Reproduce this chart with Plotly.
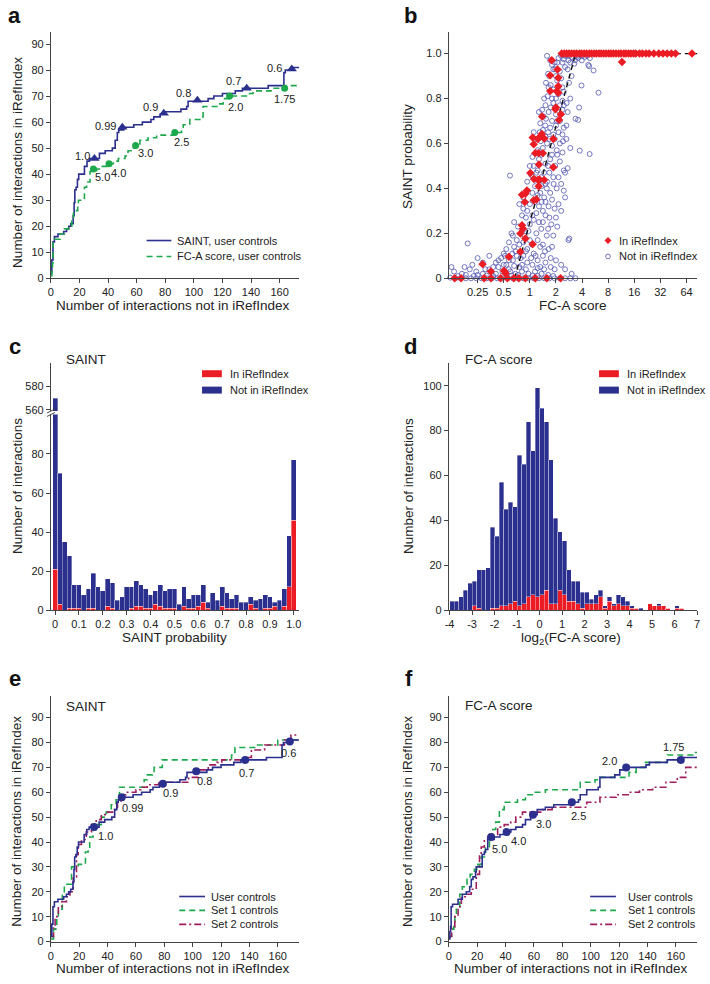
import plotly.graph_objects as go

W, H = 710, 984
NAVY = "#2b2f8e"
GREEN = "#1ea84c"
PURPLE = "#a01d5e"
RED = "#ec1c24"
CIRC = "#5357b0"
AX = "#444444"
TXT = "#222222"
FONT = "Liberation Sans, Arial, Helvetica, sans-serif"

# ---------------- data ----------------
# Panel a / e / f step curves: x = interactions not in iRefIndex, y = in iRefIndex
saint_user_x = [0, 0.7, 1.5, 2.5, 5, 9, 11, 12.6, 14, 15.6, 16.3, 16.8, 17.7, 18.6, 19.5, 23.5, 25.3, 27,
                34, 38, 43, 45, 46.5, 47.5, 51, 58, 64, 70, 72, 76.5, 80, 91, 95, 96, 110, 114, 120, 129,
                134, 152, 163, 164, 169.5, 175]
saint_user_y = [2, 7, 14, 16, 17, 18, 19, 20, 21, 24, 29, 34, 35, 38, 40, 43, 45, 46,
                48, 49, 50, 53, 56, 57, 58, 59, 60, 61, 62, 63, 64, 65, 66, 68, 69, 70, 71, 72,
                73, 74, 79, 80, 81, 81]
saint_thr_x = [30.5, 50, 79, 102.5, 137, 168.5]
saint_thr_y = [46, 58, 63.4, 68.4, 73, 80.4]
saint_thr_lab = ["1.0", "0.99", "0.9", "0.8", "0.7", "0.6"]

fca_user_x = [0, 0.7, 1.2, 1.6, 2.6, 6.5, 9.5, 12.3, 14.7, 15.8, 17, 18.8, 19.3, 23.5, 25, 25.8, 27.4,
              32, 36, 40.7, 43.7, 47.2, 51.9, 54, 57.7, 59.3, 62.3, 68, 74, 85.6, 91.4, 92.6, 97.2,
              105.3, 106.5, 117, 120.5, 125, 139, 141.4, 154, 164.7, 175]
fca_user_y = [1, 4, 6, 14, 15, 17, 19, 20, 22, 25, 26, 28, 30, 35, 36, 37, 41,
              42, 43, 44, 45, 46, 47, 49, 50, 51, 53, 54, 55, 56, 57, 59, 61,
              62, 66, 67, 69, 70, 71, 72, 73, 74, 74]
fca_thr_x = [29.8, 40.7, 59.3, 86.7, 125, 163.5]
fca_thr_y = [42, 44, 51, 56, 70, 73]
fca_thr_lab = ["5.0", "4.0", "3.0", "2.5", "2.0", "1.75"]

saint_set1_x = [0, 1.9, 3.5, 4.2, 5.3, 8.1, 9.5, 14.6, 19.3, 24.4, 26.3, 27.4, 29.8, 32, 35.6, 39, 42.6,
                46, 48.4, 63.5, 65.8, 68, 71.6, 72.8, 78.6, 127.4, 129.8, 143.7, 160, 175]
saint_set1_y = [1, 5, 6, 10, 13, 19, 23, 30, 31, 36, 37, 42, 45, 47, 50, 52, 55,
                57, 62, 62, 65, 67, 68, 70, 73, 75, 78, 79, 81, 81]
saint_set2_x = [0, 1.9, 3, 5.3, 7.7, 11, 13.5, 15.8, 18.1, 19.3, 21.6, 25, 28.6, 32, 35.6, 40, 44.9, 47,
                49.5, 53, 60, 63.5, 68, 76, 97.2, 104, 111, 117, 120.5, 136.7, 141.4, 150.7, 164.7,
                169.3, 175]
saint_set2_y = [2, 6, 10, 14, 16, 18, 20, 26, 35, 39, 41, 44, 47, 49, 51, 52, 53, 56,
                59, 60, 61, 62, 63, 64, 66, 69, 71, 72, 73, 74, 77, 79, 81,
                83, 83]
fca_set1_x = [0, 1.9, 3.5, 4.2, 5.3, 7.7, 9.5, 12.8, 15, 18, 20.5, 22.8, 25.8, 28.6, 31, 33, 35.6, 39,
              48.4, 54, 60, 68, 92.6, 103, 106.5, 127, 132, 138, 154, 172, 175]
fca_set1_y = [2, 5, 6, 10, 13, 19, 22, 25, 27, 29, 31, 34, 38, 42, 45, 48, 53, 56,
              57, 59, 60, 61, 64, 65, 66, 68, 70, 72, 75, 76, 76]
fca_set2_x = [0, 1.9, 4.2, 6.5, 8.8, 12.3, 15.8, 19.3, 21.6, 22.8, 25, 27.4, 29.8, 34.4, 39, 43.7,
              47.2, 51.9, 65.8, 72.8, 97.2, 106.5, 118, 127.4, 134.4, 143.7, 153, 161, 167, 175]
fca_set2_y = [2, 6, 10, 14, 18, 19, 21, 27, 35, 38, 41, 42, 43, 46, 47, 48,
              50, 52, 53, 54, 56, 58, 59, 60, 61, 62, 64, 66, 70, 70]

# Panel b scatter: log2(FC-A score) and SAINT probability
b_in_log2fc = [1.22, 1.32, 1.41, 1.5, 1.6, 1.7, 1.79, 1.9, 1.98, 2.08, 2.17, 2.27, 2.36, 2.46, 2.55, 2.65,
               2.73, 2.83, 2.92, 3.02, 3.11, 3.2, 3.3, 3.4, 3.49, 3.6, 3.68, 3.78, 3.87, 3.97, 4.06, 4.2,
               4.31, 4.45, 4.57, 4.75, 4.94, 5.1, 5.26, 5.42, 5.58, 6.21, 6.52, 3.53,
               0.84, 0.78, 1.06, 1.09, 1.09, 0.78, 1.03, 1.09, 1.0, 0.98, 1.19, 1.12, 0.47, 0.90,
               0.11, 0.15, 0.31, 0.40, 0.46, 0.55, 0.34, 0.21, 0.5, 0.35, 0.90, 0.02, 0.16, 0.31,
               0.37, 0.55, 0.34, -0.30, -0.17, -0.11, 0.15, 0.25, -0.19, -0.30, -0.26, -0.36, -0.17,
               0.11, -0.36, -0.8, -1.81, -1.49, -0.99, -0.93,
               -2.88, -2.63, -1.75, -1.49, -1.12, -0.86, -0.61, -0.42, -0.17, 0.21, 0.65, 1.18]
b_in_saint = [1, 1, 1, 1, 1, 1, 1, 1, 1, 1, 1, 1, 1, 1, 1, 1,
              1, 1, 1, 1, 1, 1, 1, 1, 1, 1, 1, 1, 1, 1, 1, 1,
              1, 1, 1, 1, 1, 1, 1, 1, 1, 1, 1, 0.963,
              0.97, 0.903, 0.929, 0.892, 0.855, 0.833, 0.833, 0.826, 0.76, 0.752, 0.73, 0.705, 0.72, 0.62,
              0.627, 0.597, 0.62, 0.631, 0.642, 0.622, 0.557, 0.557, 0.557, 0.506, 0.494, 0.469, 0.442, 0.438,
              0.44, 0.438, 0.41, 0.372, 0.376, 0.391, 0.347, 0.351, 0.339, 0.236, 0.221, 0.199, 0.177,
              0.152, 0.118, 0.096, 0.063, 0.03, 0.034, 0.022,
              0, 0, 0, 0, 0, 0, 0, 0, 0, 0, 0, 0]

b_out_log2fc = [0.66, 0.78, 0.95, 1.1, 1.2, 1.35, 1.5, 1.6, 1.75, 1.85, 2.0, 2.1, 1.48, 1.73, 1.99, 1.25, 1.4, 1.9, 2.2, 2.3,
                0.85, 2.24, 0.97, 1.15, 1.35, 1.6, 2.27, 2.44, 0.7, 1.0, 1.45, 1.7,
                0.62, 0.8, 1.05, 1.25, 1.98, 0.9, 1.5, 0.72,
                0.55, 0.68, 0.85, 1.1, 1.25, 0.6, 0.9, 1.3, 1.89, 2.63, 1.41, 1.0,
                0.47, 0.72, 0.53, 1.0, 1.25, 1.45, 1.85, 1.75, 0.85, 0.62, 1.15,
                0.4, 0.59, 0.78, 1.0, 1.1, 1.25, 0.38, 1.3, 0.5, 0.9,
                0.22, 0.42, 0.66, 0.85, 1.03, 1.27, 0.28, 1.91, 2.29, 1.55, 0.6, 1.15, 0.75,
                0.1, 0.35, 0.6, 0.78, 0.97, 1.15, 0.15, 1.3, 1.45, 0.45, 0.85,
                0.05, 0.22, 0.44, 0.66, 0.91, 1.1, 1.35, -0.76, 0.3, 0.75, -0.1,
                -0.1, 0.1, 0.3, 0.55, 0.78, 1.03, 1.3, 1.35, 1.1, 0.45, -0.25, 0.65,
                -0.25, -0.1, 0.1, 0.35, 0.5, 0.75, 0.95, 0.72, -0.4, 0.2, 0.6,
                -0.6, -0.45, -0.3, 0.0, 0.25, 0.44, 0.7, 0.9, -0.65, -0.5, 1.05, 1.51, 0.15, -0.15, 0.5,
                -0.8, -0.6, -0.4, -0.1, 0.15, 0.4, 0.58, 0.72, 1.48, -2.38, 0.0, -0.25, 0.3,
                -1.55, -1.3, -1.1, -0.9, -0.65, -0.4, -0.1, 0.22, 0.4, 0.6, 1.0, -0.67, -2.0, -1.8, -2.5,
                -1.0, -0.25, 0.05, -0.5, 1.2, 0.8,
                -2.9, -2.6, -2.3, -2.05, -1.8, -1.55, -1.3, -1.05, -0.8, -0.55, -0.3, -0.05, 0.2, 0.45,
                -3.0, -1.2, -0.9, -2.75, -2.45, -2.15, -1.65, -1.4, -0.7, 0.1, 0.7,
                -3.05, -2.85, -2.65, -2.45, -2.25, -2.05, -1.85, -1.65, -1.45, -1.25, -1.05, -0.85,
                -0.65, -0.45, -0.25, -0.05, 0.15, 0.35, 0.55, 0.75, 0.95, 1.15, 1.35, 1.55, 1.75,
                -0.9, -0.7, -0.55, -0.35, -0.2, -0.05, 0.08, 0.3, 0.5, 0.65, 0.85, 0.35, 0.6, 0.82, 1.0,
                -0.3, 0.0, 0.25, 0.45, 0.85, 1.2, 0.2, 0.4, 0.6, 0.9, 1.2, 0.0, 0.25, 0.55, 0.7, 1.05,
                1.25, 0.3, 0.5, 0.95, 1.4, 0.15, 0.7, 1.05, 1.4, 0.35, 0.8, 1.15, 1.55, 0.75, 0.9, 1.2,
                1.3, 1.05, 1.3, 1.55, 1.8, -1.4, -1.2, -0.8, -0.95, -2.2, -1.7, -0.15, 0.3, 0.55, 0.95,
                1.35, 1.6, -2.0, -0.45, 0.3, 0.9, -1.0, -0.6, -0.3, 0.1, -0.75, -0.15, 0.5, 0.8]
b_out_saint = [0.99, 0.97, 0.96, 0.98, 0.99, 0.99, 0.99, 0.985, 0.99, 0.98, 0.99, 0.985, 0.97, 0.97, 0.97, 0.96, 0.995, 0.995, 0.99, 0.98,
               0.95, 0.95, 0.93, 0.92, 0.94, 0.9, 0.944, 0.925, 0.91, 0.9, 0.93, 0.955,
               0.87, 0.86, 0.88, 0.85, 0.858, 0.84, 0.87, 0.85,
               0.8, 0.81, 0.8, 0.82, 0.79, 0.77, 0.78, 0.77, 0.76, 0.826, 0.78, 0.8,
               0.75, 0.74, 0.72, 0.73, 0.75, 0.74, 0.705, 0.71, 0.7, 0.71, 0.7,
               0.69, 0.68, 0.67, 0.68, 0.65, 0.64, 0.65, 0.67, 0.66, 0.64,
               0.62, 0.61, 0.6, 0.59, 0.57, 0.61, 0.56, 0.568, 0.553, 0.58, 0.63, 0.6, 0.62,
               0.54, 0.53, 0.51, 0.53, 0.5, 0.52, 0.5, 0.48, 0.49, 0.55, 0.55,
               0.46, 0.44, 0.45, 0.43, 0.42, 0.45, 0.47, 0.457, 0.48, 0.47, 0.43,
               0.39, 0.38, 0.37, 0.36, 0.38, 0.4, 0.39, 0.36, 0.33, 0.41, 0.36, 0.4,
               0.31, 0.3, 0.28, 0.32, 0.3, 0.27, 0.31, 0.32, 0.33, 0.34, 0.34,
               0.25, 0.23, 0.21, 0.24, 0.2, 0.22, 0.22, 0.19, 0.19, 0.17, 0.23, 0.177, 0.26, 0.27, 0.25,
               0.16, 0.14, 0.15, 0.13, 0.11, 0.14, 0.12, 0.13, 0.17, 0.155, 0.17, 0.16, 0.17,
               0.1, 0.07, 0.09, 0.06, 0.08, 0.05, 0.07, 0.1, 0.05, 0.07, 0.08, 0.11, 0.09, 0.07, 0.05,
               0.11, 0.1, 0.09, 0.1, 0.06, 0.05,
               0.03, 0.02, 0.04, 0.03, 0.02, 0.04, 0.02, 0.03, 0.04, 0.02, 0.03, 0.02, 0.03, 0.02,
               0.05, 0.05, 0.02, 0.01, 0.015, 0.01, 0.012, 0.01, 0.012, 0.012, 0.015,
               0.003, 0, 0, 0, 0, 0, 0, 0, 0, 0, 0, 0,
               0, 0, 0, 0, 0, 0, 0, 0, 0, 0, 0, 0, 0,
               0.13, 0.2, 0.12, 0.09, 0.19, 0.21, 0.15, 0.08, 0.15, 0.19, 0.14, 0.25, 0.28, 0.24, 0.27,
               0.28, 0.33, 0.29, 0.34, 0.35, 0.3, 0.41, 0.38, 0.42, 0.45, 0.42, 0.5, 0.47, 0.47, 0.5, 0.55,
               0.56, 0.57, 0.58, 0.62, 0.62, 0.65, 0.65, 0.7, 0.68, 0.74, 0.76, 0.77, 0.8, 0.9, 0.93, 0.89,
               0.83, 0.96, 0.975, 0.96, 0.985, 0.05, 0.08, 0.08, 0.1, 0.06, 0.04, 0.04, 0.045, 0.04, 0.04,
               0.04, 0.02, 0.015, 0.015, 0.01, 0.01, 0.06, 0.055, 0.06, 0.06, 0.03, 0.12, 0.1, 0.09]
b_fit_log2fc = [-0.58, 1.755, 6.5]
b_fit_saint = [0, 1, 1]

# Panel c histogram (SAINT probability bins)
c_bins = [0, 0.02, 0.04, 0.06, 0.08, 0.1, 0.12, 0.14, 0.16, 0.18, 0.2, 0.22, 0.24, 0.26, 0.28, 0.3,
          0.32, 0.34, 0.36, 0.38, 0.4, 0.42, 0.44, 0.46, 0.48, 0.5, 0.52, 0.54, 0.56, 0.58, 0.6,
          0.62, 0.64, 0.66, 0.68, 0.7, 0.72, 0.74, 0.76, 0.78, 0.8, 0.82, 0.84, 0.86, 0.88, 0.9,
          0.92, 0.94, 0.96, 0.98, 1.0]
c_in = [21, 3, 0, 1, 1, 1, 0, 1, 1, 0, 0, 2, 1, 0, 0, 0, 1, 2, 2, 1, 1, 3, 2, 1, 1, 1, 0, 2, 1, 1,
        2, 4, 1, 0, 0, 2, 1, 1, 1, 0, 0, 3, 1, 0, 1, 1, 2, 0, 2, 12, 46]
c_notin = [549, 67, 35, 27, 12, 12, 8, 10, 18, 12, 10, 14, 13, 5, 7, 12, 11, 13, 11, 10, 7, 7, 11, 9,
           10, 10, 3, 10, 5, 7, 6, 9, 3, 9, 5, 10, 8, 5, 7, 4, 4, 4, 4, 6, 7, 6, 2, 5, 9, 26, 31]

# Panel d histogram (log2 FC-A score bins, centres)
d_bins = [-3.9, -3.7, -3.5, -3.3, -3.1, -2.9, -2.7, -2.5, -2.3, -2.1, -1.9, -1.7, -1.5, -1.3, -1.1,
          -0.9, -0.7, -0.5, -0.3, -0.1, 0.1, 0.3, 0.5, 0.7, 0.9, 1.1, 1.3, 1.5, 1.7, 1.9, 2.1, 2.3,
          2.5, 2.7, 2.9, 3.1, 3.3, 3.5, 3.7, 3.9, 4.1, 4.3, 4.5, 4.7, 4.9, 5.1, 5.3, 5.5, 5.7, 5.9,
          6.1, 6.3, 6.5, 6.7]
d_in = [0, 0, 0, 0, 0, 2, 1, 0, 0, 1, 1, 2, 2, 3, 4, 2, 3, 6, 7, 6, 7, 9, 3, 3, 9, 7, 4, 4, 3, 1,
        3, 3, 3, 6, 1, 4, 2, 3, 2, 2, 1, 1, 0, 0, 3, 2, 2, 2, 1, 0, 1, 1, 0, 0]
d_notin = [4, 4, 6, 9, 12, 11, 17, 18, 19, 36, 32, 55, 43, 45, 42, 67, 62, 78, 64, 93, 83, 75, 64, 38,
           26, 24, 14, 9, 10, 7, 5, 2, 4, 3, 1, 2, 1, 4, 4, 2, 1, 0, 1, 0, 0, 0, 1, 0, 0, 0, 1, 0, 0, 0]

# ---------------- layout helpers ----------------
def fx(p):
    return p / W


def fy(p):
    return 1 - p / H


def axis(domain, rng, **kw):
    d = dict(domain=domain, range=rng, showline=True, linecolor=AX, linewidth=1,
             ticks="outside", ticklen=4, tickwidth=1, tickcolor=AX, showgrid=False,
             zeroline=False, tickfont=dict(size=11, color=TXT, family=FONT), fixedrange=True)
    d.update(kw)
    return d


XL = [fx(47.3), fx(298)]
XR = [fx(449.3), fx(700)]

fig = go.Figure()
annotations = []
shapes = []


def step(x, y, color, dash, xa, ya):
    fig.add_trace(go.Scatter(x=x, y=y, mode="lines", xaxis=xa, yaxis=ya,
                             line=dict(color=color, width=1.6, shape="hv", dash=dash),
                             showlegend=False, hoverinfo="skip"))


def thr(x, y, color, symbol, size, xa, ya, labels, offs):
    fig.add_trace(go.Scatter(x=x, y=y, mode="markers", xaxis=xa, yaxis=ya, cliponaxis=False,
                             marker=dict(symbol=symbol, size=size, color=color, line=dict(width=0)),
                             showlegend=False, hoverinfo="skip"))
    for xi, yi, lab, (dx, dy) in zip(x, y, labels, offs):
        annotations.append(dict(x=xi, y=yi, xref=xa, yref=ya, text=lab,
                                showarrow=False, xshift=dx, yshift=-dy,
                                font=dict(size=11, color=TXT, family=FONT)))


def text(px, py, s, size=13.5, angle=0, anchor="center", bold=False):
    annotations.append(dict(x=fx(px), y=fy(py), xref="paper", yref="paper", text=s,
                            showarrow=False, textangle=angle, xanchor=anchor, yanchor="middle",
                            font=dict(size=size, color="#111" if bold else TXT, family=FONT)))


def leg_line(x0, x1, py, color, dash):
    shapes.append(dict(type="line", xref="paper", yref="paper", x0=fx(x0), x1=fx(x1), y0=fy(py), y1=fy(py),
                       line=dict(color=color, width=1.6, dash=dash)))


def leg_rect(x0, x1, y0, y1, color):
    shapes.append(dict(type="rect", xref="paper", yref="paper", x0=fx(x0), x1=fx(x1), y0=fy(y1), y1=fy(y0),
                       fillcolor=color, line=dict(width=0)))


DASH_G = "6px,4px"
DASH_P = "7px,3px,2px,3px"
BAR_EDGE = dict(color="rgba(255,255,255,0.7)", width=0.5)

# ---------------- panel a ----------------
step(saint_user_x, saint_user_y, NAVY, "solid", "x", "y")
step(fca_user_x, fca_user_y, GREEN, DASH_G, "x", "y")
thr(saint_thr_x, saint_thr_y, NAVY, "triangle-up", 9, "x", "y", saint_thr_lab,
    [(-12, -3), (-17, -1), (-13, -6), (-14, -7), (-13, -7), (-17, -1)])
thr(fca_thr_x, fca_thr_y, GREEN, "circle", 7, "x", "y", fca_thr_lab,
    [(9, 8), (9, 9), (10, 7), (7, 9), (6, 11), (0, 11)])
leg_line(144, 169, 242, NAVY, "solid")
leg_line(144, 169, 258, GREEN, DASH_G)
text(173, 242, "SAINT, user controls", 11, anchor="left")
text(173, 258, "FC-A score, user controls", 11, anchor="left")

# ---------------- panel b ----------------
fig.add_trace(go.Scatter(x=b_out_log2fc, y=b_out_saint, mode="markers", xaxis="x2", yaxis="y2",
                         cliponaxis=False,
                         marker=dict(symbol="circle-open", size=5, color=CIRC, line=dict(width=0.8, color=CIRC)),
                         showlegend=False, hoverinfo="skip"))
fig.add_trace(go.Scatter(x=b_fit_log2fc, y=b_fit_saint, mode="lines", xaxis="x2", yaxis="y2",
                         line=dict(color="#111", width=1.4, dash="5px,4px"), showlegend=False, hoverinfo="skip"))
fig.add_trace(go.Scatter(x=b_in_log2fc, y=b_in_saint, mode="markers", xaxis="x2", yaxis="y2",
                         cliponaxis=False,
                         marker=dict(symbol="diamond", size=6.5, color=RED, line=dict(width=0)),
                         showlegend=False, hoverinfo="skip"))
d0x, d0y = 610, 242
shapes.append(dict(type="path", xref="paper", yref="paper",
                   path=f"M {fx(d0x-3.5)},{fy(d0y)} L {fx(d0x)},{fy(d0y-3.5)} L {fx(d0x+3.5)},{fy(d0y)} L {fx(d0x)},{fy(d0y+3.5)} Z",
                   fillcolor=RED, line=dict(width=0)))
shapes.append(dict(type="circle", xref="paper", yref="paper", x0=fx(607.6), x1=fx(612.4), y0=fy(260.4), y1=fy(255.6),
                   line=dict(color=CIRC, width=0.8)))
text(619, 242, "In iRefIndex", 11, anchor="left")
text(619, 258, "Not in iRefIndex", 11, anchor="left")

# ---------------- panel c ----------------
for xa, ya in (("x3", "y3"), ("x7", "y7")):
    fig.add_trace(go.Bar(x=c_bins, y=c_in, xaxis=xa, yaxis=ya, marker=dict(color=RED, line=BAR_EDGE),
                         showlegend=False, hoverinfo="skip"))
    fig.add_trace(go.Bar(x=c_bins, y=c_notin, xaxis=xa, yaxis=ya, marker=dict(color=NAVY, line=BAR_EDGE),
                         showlegend=False, hoverinfo="skip"))
leg_rect(200, 220, 372.5, 379.5, RED)
leg_rect(200, 220, 389, 396, NAVY)
text(226, 376, "In iRefIndex", 11, anchor="left")
text(226, 392.5, "Not in iRefIndex", 11, anchor="left")
text(83, 362, "SAINT", 13.5)
shapes.append(dict(type="line", xref="paper", yref="paper", x0=fx(43.5), x1=fx(51.5), y0=fy(415.5), y1=fy(411.5),
                   line=dict(color=AX, width=1)))
shapes.append(dict(type="line", xref="paper", yref="paper", x0=fx(43.5), x1=fx(51.5), y0=fy(419), y1=fy(415),
                   line=dict(color=AX, width=1)))

# ---------------- panel d ----------------
fig.add_trace(go.Bar(x=d_bins, y=d_in, xaxis="x4", yaxis="y4", marker=dict(color=RED, line=BAR_EDGE),
                     showlegend=False, hoverinfo="skip"))
fig.add_trace(go.Bar(x=d_bins, y=d_notin, xaxis="x4", yaxis="y4", marker=dict(color=NAVY, line=BAR_EDGE),
                     showlegend=False, hoverinfo="skip"))
leg_rect(601, 621, 372.5, 379.5, RED)
leg_rect(601, 621, 389, 396, NAVY)
text(627, 376, "In iRefIndex", 11, anchor="left")
text(627, 392.5, "Not in iRefIndex", 11, anchor="left")
text(500, 362, "FC-A score", 13.5)

# ---------------- panel e ----------------
step(saint_set1_x, saint_set1_y, GREEN, DASH_G, "x5", "y5")
step(saint_set2_x, saint_set2_y, PURPLE, DASH_P, "x5", "y5")
step(saint_user_x, saint_user_y, NAVY, "solid", "x5", "y5")
thr(saint_thr_x, saint_thr_y, NAVY, "circle", 8, "x5", "y5", saint_thr_lab,
    [(11, 9), (11, 11), (8, 9), (8, 10), (1, 13), (-1, 11)])
for i, (c, dsh, lab) in enumerate(((NAVY, "solid", "User controls"), (GREEN, DASH_G, "Set 1 controls"),
                                   (PURPLE, DASH_P, "Set 2 controls"))):
    leg_line(177, 203, 902 + 14 * i, c, dsh)
    text(207, 902 + 14 * i, lab, 11, anchor="left")
text(83, 711, "SAINT", 13.5)

# ---------------- panel f ----------------
step(fca_set1_x, fca_set1_y, GREEN, DASH_G, "x6", "y6")
step(fca_set2_x, fca_set2_y, PURPLE, DASH_P, "x6", "y6")
step(fca_user_x, fca_user_y, NAVY, "solid", "x6", "y6")
thr(fca_thr_x, fca_thr_y, NAVY, "circle", 8, "x6", "y6", fca_thr_lab,
    [(8, 12), (12, 9), (11, 9), (7, 14), (-17, -6), (-7, -13)])
for i, (c, dsh, lab) in enumerate(((NAVY, "solid", "User controls"), (GREEN, DASH_G, "Set 1 controls"),
                                   (PURPLE, DASH_P, "Set 2 controls"))):
    leg_line(592, 618, 902 + 14 * i, c, dsh)
    text(628, 902 + 14 * i, lab, 11, anchor="left")
text(500, 710, "FC-A score", 13.5)

# ---------------- titles & panel letters ----------------
XT_A = "Number of interactions not in iRefIndex"
YT_A = "Number of interactions in iRefIndex"
text(171, 307.5, XT_A)
text(13, 163, YT_A, angle=-90)
text(575, 307.5, "FC-A score")
text(407, 157, "SAINT probability", angle=-90)
text(172, 641.5, "SAINT probability")
text(13, 489, "Number of interactions", angle=-90)
text(573, 642, "log<sub>2</sub>(FC-A score)")
text(408, 489, "Number of interactions", angle=-90)
text(171, 974.5, XT_A)
text(13, 826, YT_A, angle=-90)
text(573, 974.5, XT_A)
text(408, 826, YT_A, angle=-90)
for lt, px_, py_ in (("a", 11, 16), ("b", 411, 16), ("c", 11, 349), ("d", 411, 349), ("e", 11, 683), ("f", 409, 683)):
    text(px_, py_, f"<b>{lt}</b>", 22, anchor="center", bold=True)

# ---------------- axes ----------------
ticks20 = list(range(0, 161, 20))
ticks10 = list(range(0, 91, 10))
fig.update_layout(
    width=W, height=H, autosize=False, margin=dict(l=0, r=0, t=0, b=0),
    paper_bgcolor="white", plot_bgcolor="white", barmode="stack", bargap=0,
    font=dict(family=FONT, color=TXT),
    xaxis=axis(XL, [0, 173.6], anchor="y", tickvals=ticks20),
    yaxis=axis([fy(280), fy(31.7)], [0, 94.8], anchor="x", tickvals=ticks10),
    xaxis2=axis(XR, [-3.1, 6.406], anchor="y2", tickvals=[-2, -1, 0, 1, 2, 3, 4, 5, 6],
                ticktext=["0.25", "0.5", "1", "2", "4", "8", "16", "32", "64"]),
    yaxis2=axis([fy(280), fy(32)], [0, 1.097], anchor="x2", tickvals=[0, 0.2, 0.4, 0.6, 0.8, 1.0],
                ticktext=["0", "0.2", "0.4", "0.6", "0.8", "1.0"]),
    xaxis3=axis(XL, [-0.018, 1.022], anchor="y3", tickvals=[0, 0.1, 0.2, 0.3, 0.4, 0.5, 0.6, 0.7, 0.8, 0.9, 1.0],
                ticktext=["0", "0.1", "0.2", "0.3", "0.4", "0.5", "0.6", "0.7", "0.8", "0.9", "1.0"]),
    yaxis3=axis([fy(614), fy(417)], [0, 100.2], anchor="x3", tickvals=[0, 20, 40, 60, 80]),
    xaxis7=axis(XL, [-0.018, 1.022], anchor="y7", visible=False),
    yaxis7=axis([fy(413.5), fy(365)], [559, 600.1], anchor="x7", tickvals=[560, 580]),
    xaxis4=axis(XR, [-4.03, 7.0], anchor="y4", tickvals=list(range(-4, 8)),
                ticktext=["-4", "-3", "-2", "-1", "0", "1", "2", "3", "4", "5", "6", "7"]),
    yaxis4=axis([fy(614), fy(365)], [0, 110.2], anchor="x4", tickvals=[0, 20, 40, 60, 80, 100]),
    xaxis5=axis(XL, [0, 175], anchor="y5", tickvals=ticks20),
    yaxis5=axis([fy(947.3), fy(700)], [0, 98.8], anchor="x5", tickvals=ticks10),
    xaxis6=axis(XR, [0, 175], anchor="y6", tickvals=ticks20),
    yaxis6=axis([fy(947.3), fy(700)], [0, 98.8], anchor="x6", tickvals=ticks10),
    annotations=annotations, shapes=shapes,
)

fig.write_html("out.html", config={"displayModeBar": False, "staticPlot": True},
               post_script="document.body.style.margin='0';document.body.style.overflow='hidden';")
